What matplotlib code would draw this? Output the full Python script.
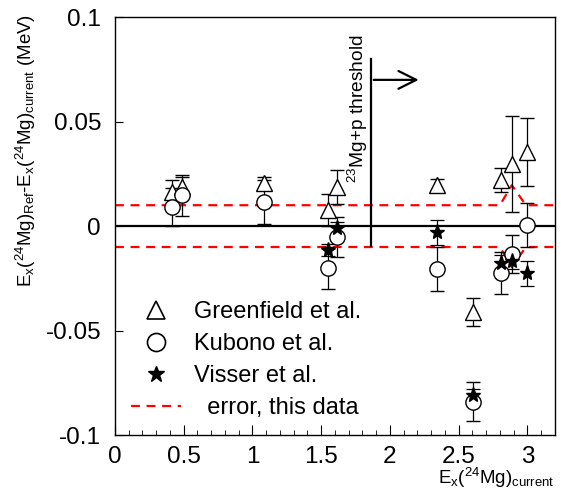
import numpy as np
import matplotlib.pyplot as plt
from matplotlib.lines import Line2D

plt.rcParams['font.family'] = ['Liberation Sans', 'DejaVu Sans']
plt.rcParams['mathtext.fontset'] = 'custom'
plt.rcParams['mathtext.rm'] = 'Liberation Sans'
plt.rcParams['mathtext.it'] = 'Liberation Sans'
plt.rcParams['mathtext.default'] = 'regular'

# Greenfield et al.
g_x = [0.415, 0.487, 1.084, 1.549, 1.615, 2.342, 2.605, 2.807, 2.887, 2.996]
g_y = [0.0163, 0.0187, 0.0206, 0.0077, 0.0187, 0.0196, -0.041, 0.022, 0.0297, 0.0354]
g_err = [0.006, 0.005, 0.003, 0.0075, 0.008, 0.003, 0.0067, 0.0057, 0.023, 0.0163]

# Kubono et al.
k_x = [0.415, 0.487, 1.084, 1.549, 1.615, 2.342, 2.605, 2.807, 2.887, 2.996]
k_y = [0.009, 0.0148, 0.0115, -0.020, -0.0053, -0.0206, -0.084, -0.0225, -0.0134, 0.0005]
k_err = [0.009, 0.0098, 0.0105, 0.010, 0.0095, 0.0105, 0.0095, 0.010, 0.009, 0.0105]

# Visser et al.
v_x = [1.549, 1.615, 2.342, 2.605, 2.807, 2.887, 2.996]
v_y = [-0.0115, -0.001, -0.003, -0.081, -0.0177, -0.0167, -0.0225]
v_err = [0.003, 0.003, 0.006, 0.003, 0.004, 0.004, 0.006]

# error band of this data
err_x = [0.0, 2.80, 2.887, 2.99, 3.2]
err_hi = [0.01, 0.01, 0.0196, 0.01, 0.01]
err_lo = [-0.01, -0.01, -0.0196, -0.01, -0.01]

threshold = 1.862

fig = plt.figure(figsize=(5.61, 4.91), dpi=100)
ax = fig.add_axes([0.205, 0.114, 0.784, 0.851])

ax.axhline(0, color='black', lw=1.6, zorder=1)
ax.plot(err_x, err_hi, color='red', ls=(0, (4, 3)), lw=1.6, zorder=2)
ax.plot(err_x, err_lo, color='red', ls=(0, (4, 3)), lw=1.6, zorder=2)

ekw = dict(ecolor='black', elinewidth=0.9, capsize=5, capthick=0.9, ls='none', zorder=3)
ax.errorbar(g_x, g_y, yerr=g_err, marker='^', ms=11, mfc='white', mec='black', mew=1.0, **ekw)
ax.errorbar(k_x, k_y, yerr=k_err, marker='o', ms=11, mfc='white', mec='black', mew=1.0, **ekw)
ax.errorbar(v_x, v_y, yerr=v_err, marker='*', ms=11, mfc='black', mec='black', **ekw)

# threshold marker
ax.plot([threshold, threshold], [-0.0095, 0.08], color='black', lw=1.6, zorder=2)
ax.annotate('', xy=(2.23, 0.07), xytext=(threshold, 0.07),
            arrowprops=dict(arrowstyle='->', color='black', lw=1.6, mutation_scale=32))
ax.text(threshold - 0.095, 0.0205, r'$^{23}$Mg+p threshold', rotation=90,
        ha='center', va='bottom', fontsize=13.8)

ax.set_xlim(0, 3.2)
ax.set_ylim(-0.1, 0.1)
ax.set_xticks(np.arange(0, 3.01, 0.5))
ax.set_xticklabels(['0', '0.5', '1', '1.5', '2', '2.5', '3'])
ax.set_xticks(np.arange(0, 3.21, 0.1), minor=True)
ax.set_yticks([-0.1, -0.05, 0, 0.05, 0.1])
ax.set_yticklabels(['-0.1', '-0.05', '0', '0.05', '0.1'])
ax.tick_params(axis='x', which='major', direction='in', length=7, labelsize=17.5, pad=8, top=False)
ax.tick_params(axis='x', which='minor', direction='in', length=3.5, top=False)
ax.tick_params(axis='y', which='major', direction='in', length=6, labelsize=17.5, pad=10, right=False)
for s in ax.spines.values():
    s.set_linewidth(1.0)

ax.set_ylabel(r'E$_{x}$($^{24}$Mg)$_{Ref}$-E$_{x}$($^{24}$Mg)$_{current}$ (MeV)', fontsize=13.5)
ax.yaxis.set_label_coords(-0.176, 0.68)
ax.set_xlabel(r'E$_{x}$($^{24}$Mg)$_{current}$', fontsize=13.5, ha='right')
ax.xaxis.set_label_coords(1.0, -0.075)

handles = [
    Line2D([], [], ls='none', marker='^', ms=13, mfc='white', mec='black', mew=1.2),
    Line2D([], [], ls='none', marker='o', ms=13, mfc='white', mec='black', mew=1.2),
    Line2D([], [], ls='none', marker='*', ms=12, mfc='black', mec='black'),
    Line2D([], [], color='red', ls=(0, (4, 3)), lw=1.6),
]
labels = ['Greenfield et al.', 'Kubono et al.', 'Visser et al.', '  error, this data']
ax.legend(handles, labels, loc='lower left', bbox_to_anchor=(-0.012, -0.012), frameon=False,
          fontsize=17, handlelength=2.1, handletextpad=0.55, labelspacing=0.42)

plt.savefig('out.png', dpi=100)
